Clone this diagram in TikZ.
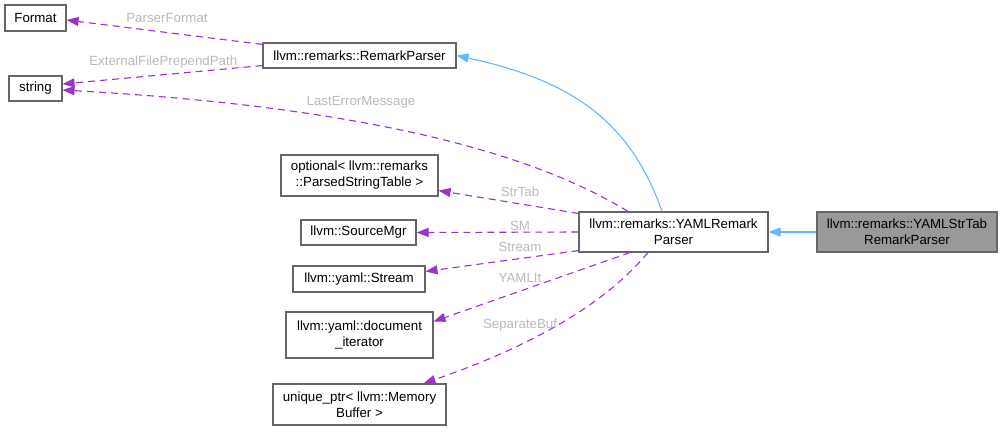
\documentclass[tikz,border=0pt]{standalone}
\usepackage{fontspec}
\setmainfont{Liberation Sans}
\usetikzlibrary{arrows.meta}
\definecolor{edgepurple}{HTML}{9A32CD}
\definecolor{edgeblue}{HTML}{63B8FF}
\definecolor{boxborder}{HTML}{666666}
\definecolor{labelgray}{HTML}{BABABA}
\definecolor{boxgray}{HTML}{999999}
\tikzset{
  cls/.style={draw=boxborder, line width=1.1pt, rectangle, inner sep=0pt, align=center,
    font=\fontsize{13.3}{16}\selectfont, fill=white},
  member/.style={draw=edgepurple, line width=1.1pt, dash pattern=on 7pt off 5pt,
    -{Triangle[length=12pt,width=9pt]}},
  inherit/.style={draw=edgeblue, line width=1.1pt, -{Triangle[length=12pt,width=9pt]}},
  lbl/.style={text=labelgray, inner sep=0pt, font=\fontsize{13.3}{16}\selectfont},
}
\begin{document}
\begin{tikzpicture}[x=1pt,y=-1pt]
\useasboundingbox (0,0) rectangle (1003,431);
% nodes
\node[cls, minimum width=61pt, minimum height=26pt] (fmt) at (35.5,18) {Format};
\node[cls, minimum width=53pt, minimum height=25pt] (str) at (35.5,88.5) {string};
\node[cls, minimum width=193pt, minimum height=25pt] (rp) at (359.5,55.5) {llvm::remarks::RemarkParser};
\node[cls, minimum width=157pt, minimum height=41pt] (opt) at (359.5,175.5) {optional< llvm::remarks\\::ParsedStringTable >};
\node[cls, minimum width=115pt, minimum height=25pt] (sm) at (358.5,232.5) {llvm::SourceMgr};
\node[cls, minimum width=132pt, minimum height=26pt] (ys) at (359,279) {llvm::yaml::Stream};
\node[cls, minimum width=147pt, minimum height=46pt] (doc) at (359.5,335) {llvm::yaml::document\\\_iterator};
\node[cls, minimum width=173pt, minimum height=41pt] (up) at (359.5,404.5) {unique\_ptr< llvm::Memory\\Buffer >};
\node[cls, minimum width=189pt, minimum height=40pt] (ym) at (673.5,232) {llvm::remarks::YAMLRemark\\Parser};
\node[cls, fill=boxgray, minimum width=180pt, minimum height=40pt] (yst) at (907,232) {llvm::remarks::YAMLStrTab\\RemarkParser};
% inheritance edges
\draw[inherit] (yst.west) -- (ym.east);
\draw[inherit] ([xshift=-11.5pt]ym.north) .. controls (630,120) and (570,80) .. (rp.east);
% member edges
\draw[member] ([yshift=-2pt]rp.north west) -- ([yshift=-2pt]fmt.east);
\draw[member] ([yshift=3pt]rp.south west) -- ([yshift=4.5pt]str.east);
\draw[member] ([xshift=-45.5pt]ym.north) .. controls (560,170) and (420,110) .. ([yshift=-1.5pt]str.east);
\draw[member] ([yshift=-2pt]ym.north west) -- ([yshift=6pt]opt.south east);
\draw[member] (ym.west) -- (sm.east);
\draw[member] ([yshift=2pt]ym.south west) -- ([yshift=-6pt]ys.north east);
\draw[member] ([xshift=-43.5pt]ym.south) -- ([yshift=-10pt]doc.north east);
\draw[member] ([xshift=-25.5pt]ym.south) .. controls (600,310) and (520,350) .. ([xshift=-23pt]up.north east);
% labels
\node[lbl] (l1) at (167,18) {ParserFormat};
\node[lbl] (l2) at (167,62) {ExternalFilePrependPath\_};
\node[lbl] (l3) at (361,102) {LastErrorMessage};
\node[lbl] (l4) at (520,192) {StrTab};
\node[lbl] (l5) at (520,226) {SM};
\node[lbl] (l6) at (520,247) {Stream};
\node[lbl] (l7) at (520,278) {YAMLIt};
\node[lbl] (l8) at (520,325) {SeparateBuf};
\end{tikzpicture}
\end{document}
